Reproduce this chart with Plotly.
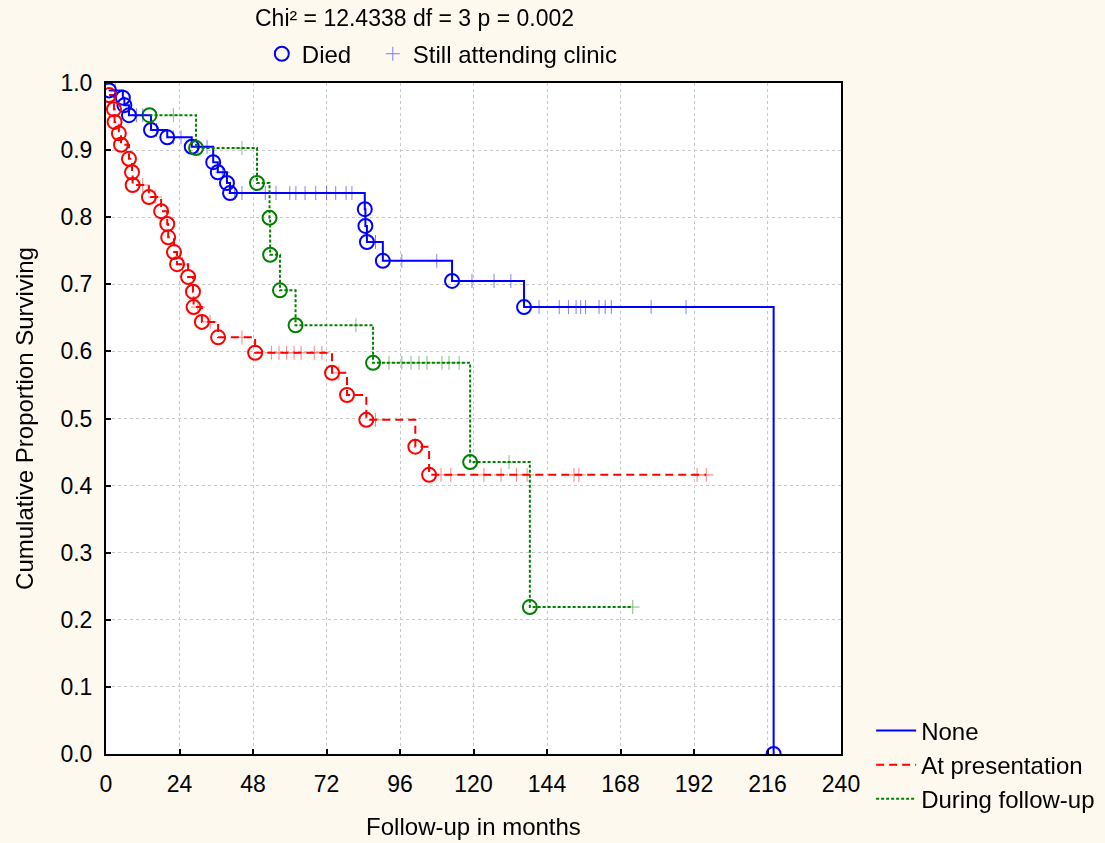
import plotly.graph_objects as go

# ---------------- data ----------------
groups = ["None", "At presentation", "During follow-up"]

none_death_t = [1, 5.5, 6, 7.5, 14.7, 20, 28, 35, 36.5, 39.5, 40.5, 84.5, 84.7, 85.2, 90.4, 113, 136.5, 218]
none_death_s = [0.989, 0.978, 0.967, 0.952, 0.930, 0.919, 0.905, 0.882, 0.867, 0.851, 0.836,
                0.812, 0.787, 0.763, 0.735, 0.705, 0.666, 0.0]
none_cens_t = [3, 10, 12, 16.5, 22, 24.5, 30, 33, 38, 42, 44.4, 52, 55.5, 60, 62, 65, 68.5, 72, 75,
               78.4, 80.3, 88, 96.6, 108, 119.5, 126.7, 132.2, 141.4, 148, 151, 153.5, 155, 156.6,
               161, 163, 165, 178, 189.4]
none_end = 218

pres_death_t = [1, 2.6, 2.8, 4.2, 4.9, 7.5, 8.5, 8.7, 14.0, 18.0, 20.0, 20.3, 22.2, 23.2, 26.8,
                28.4, 28.6, 31.3, 36.6, 48.7, 73.8, 78.7, 85.0, 101.0, 105.5]
pres_death_s = [0.982, 0.961, 0.942, 0.925, 0.908, 0.887, 0.867, 0.848, 0.830, 0.809, 0.790, 0.770,
                0.748, 0.730, 0.711, 0.689, 0.666, 0.644, 0.621, 0.598, 0.568, 0.535, 0.498, 0.458, 0.416]
pres_cens_t = [12, 16, 25, 30, 34, 44.4, 54, 56.5, 59, 61.4, 63.7, 68, 70.5, 76, 88, 109.4, 112.6,
               123.4, 129, 134, 137.5, 152.8, 154.4, 193, 196]
pres_end = 196

foll_death_t = [14.2, 29.4, 49.3, 53.4, 53.6, 56.8, 61.9, 87.2, 118.9, 138.4]
foll_death_s = [0.952, 0.903, 0.851, 0.799, 0.744, 0.691, 0.639, 0.583, 0.435, 0.219]
foll_cens_t = [22, 44.4, 81.6, 92.4, 96.6, 99.6, 102.2, 104.8, 109.7, 112, 115.3, 131.6, 172]
foll_end = 172

x_ticks = [0, 24, 48, 72, 96, 120, 144, 168, 192, 216, 240]
y_ticks = [0.0, 0.1, 0.2, 0.3, 0.4, 0.5, 0.6, 0.7, 0.8, 0.9, 1.0]
title_text = "Chi² = 12.4338 df = 3 p = 0.002"

# ---------------- styling ----------------
colors = ["#0000FF", "#FF0000", "#008000"]
dashes = ["solid", "8px,5px", "3px,2px"]
FONT = "Liberation Sans, Arial, sans-serif"
FS_TICK = 23
FS_TITLE = 23
FS_AX = 24
FS_LEG = 24

series = [
    (none_death_t, none_death_s, none_cens_t, none_end),
    (pres_death_t, pres_death_s, pres_cens_t, pres_end),
    (foll_death_t, foll_death_s, foll_cens_t, foll_end),
]


def surv_at(t, dt, ds):
    s = 1.0
    for ti, si in zip(dt, ds):
        if ti <= t:
            s = si
    return s


fig = go.Figure()

# step lines (start at first event)
for i, (dt, ds, ct, end) in enumerate(series):
    xs = list(dt)
    ys = list(ds)
    if end > xs[-1]:
        xs.append(end)
        ys.append(ys[-1])
    fig.add_trace(go.Scatter(
        x=xs, y=ys, mode="lines", line=dict(color=colors[i], width=2, dash=dashes[i], shape="hv"),
        name=groups[i], legend="legend", hoverinfo="skip"))

# died circles
for i, (dt, ds, ct, end) in enumerate(series):
    fig.add_trace(go.Scatter(
        x=dt, y=ds, mode="markers",
        marker=dict(symbol="circle-open", size=14, line=dict(color=colors[i], width=2), color=colors[i]),
        name="Died", legend="legend2", showlegend=(i == 0)))

# censored marks
for i, (dt, ds, ct, end) in enumerate(series):
    fig.add_trace(go.Scatter(
        x=ct, y=[surv_at(t, dt, ds) for t in ct], mode="markers",
        marker=dict(symbol="cross-thin", size=10, line=dict(color=colors[i], width=1), color=colors[i]),
        opacity=0.5, name="Still attending clinic", legend="legend3", showlegend=(i == 0)))

fig.update_layout(
    width=1105, height=843,
    margin=dict(l=106, r=264, t=83, b=89, autoexpand=False),
    paper_bgcolor="#FEF9EF",
    plot_bgcolor="#FFFFFF",
    font=dict(family=FONT, size=FS_TICK, color="#000000"),
    showlegend=True,
    legend=dict(x=1.041, y=0.068, xanchor="left", yanchor="top", bgcolor="rgba(0,0,0,0)",
                font=dict(size=FS_LEG), tracegroupgap=0, itemwidth=40),
    legend2=dict(orientation="h", x=0.212, y=1.043, xanchor="left", yanchor="middle",
                 bgcolor="rgba(0,0,0,0)", font=dict(size=FS_LEG)),
    legend3=dict(orientation="h", x=0.363, y=1.043, xanchor="left", yanchor="middle",
                 bgcolor="rgba(0,0,0,0)", font=dict(size=FS_LEG)),
    annotations=[dict(text=title_text, x=0.42, y=1.097, xref="paper", yref="paper",
                      showarrow=False, font=dict(size=FS_TITLE), xanchor="center", yanchor="middle")],
)

fig.update_xaxes(
    range=[0, 240], tickvals=x_ticks, ticktext=[str(v) for v in x_ticks],
    showgrid=True, gridcolor="#C8C8C8", griddash="dot", gridwidth=1,
    showline=True, linecolor="#000000", linewidth=2, mirror=True,
    ticks="inside", ticklen=5, tickwidth=2, tickcolor="#000000", ticklabelstandoff=8,
    tickfont=dict(size=FS_TICK),
    zeroline=False, title=dict(text="Follow-up in months", standoff=23, font=dict(size=FS_AX)),
)
fig.update_yaxes(
    range=[0, 1.0], tickvals=y_ticks, ticktext=[f"{v:.1f}" for v in y_ticks],
    showgrid=True, gridcolor="#C8C8C8", griddash="dot", gridwidth=1,
    showline=True, linecolor="#000000", linewidth=2, mirror=True,
    ticks="inside", ticklen=5, tickwidth=2, tickcolor="#000000", ticklabelstandoff=7,
    tickfont=dict(size=FS_TICK),
    zeroline=False, title=dict(text="Cumulative Proportion Surviving", standoff=20, font=dict(size=FS_AX)),
)

fig.write_html("out.html", config={"displayModeBar": False},
               post_script="document.body.style.margin='0';document.body.style.padding='0';")
